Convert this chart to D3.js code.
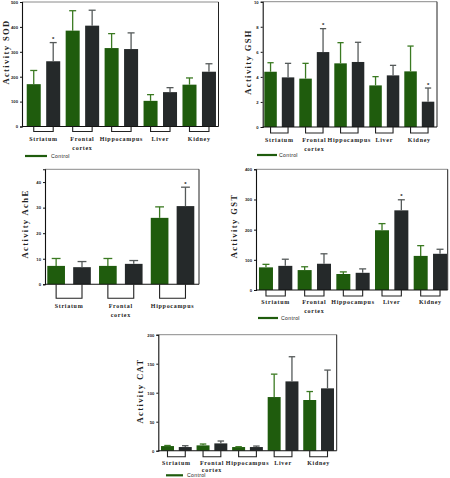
<!DOCTYPE html>
<html>
<head>
<meta charset="utf-8">
<script src="https://cdn.jsdelivr.net/npm/d3@7"></script>
<style>
html,body{margin:0;padding:0;background:#fff;}
svg{display:block;}
</style>
</head>
<body>
<svg id="chart" width="450" height="478"></svg>
<script>
// ---------------- DATA ----------------
const fiveTissues = ["Striatum", "Frontal cortex", "Hippocampus", "Liver", "Kidney"];
const threeTissues = ["Striatum", "Frontal cortex", "Hippocampus"];
const seriesNames = ["Control", "Treated"];

const sodControl = [170, 385, 315, 103, 168];
const sodControlSD = [55, 80, 58, 25, 27];
const sodTreated = [262, 405, 311, 138, 220];
const sodTreatedSD = [75, 62, 65, 18, 32];
const sodStar = [true, false, false, false, false];
const sodTicks = [0, 100, 200, 300, 400, 500];

const gshControl = [4.41, 3.86, 5.08, 3.32, 4.44];
const gshControlSD = [0.72, 1.22, 1.65, 0.70, 2.02];
const gshTreated = [3.96, 5.98, 5.19, 4.12, 2.02];
const gshTreatedSD = [1.12, 1.87, 1.57, 0.80, 1.09];
const gshStar = [false, true, false, false, true];
const gshTicks = [0, 2, 4, 6, 8, 10];

const acheControl = [7.2, 7.2, 26.0];
const acheControlSD = [2.9, 2.9, 4.3];
const acheTreated = [6.7, 8.0, 30.6];
const acheTreatedSD = [2.2, 1.3, 7.4];
const acheStar = [false, false, true];
const acheTicks = [0, 10, 20, 30, 40];

const gstControl = [75, 66, 53, 198, 113];
const gstControlSD = [10, 11, 7, 22, 34];
const gstTreated = [80, 87, 57, 264, 120];
const gstTreatedSD = [22, 33, 13, 35, 15];
const gstStar = [false, false, false, true, false];
const gstTicks = [0, 100, 200, 300, 400];

const catControl = [8, 9.2, 6.3, 92.5, 87.4];
const catControlSD = [1, 2.3, 0.6, 39.5, 14.6];
const catTreated = [6.3, 12.6, 6.3, 119.5, 107.5];
const catTreatedSD = [2.3, 4.1, 1.7, 42.5, 31.5];
const catStar = [false, false, false, false, false];
const catTicks = [0, 50, 100, 150, 200];

// ---------------- STYLE / LAYOUT ----------------
const GREEN = "#1f5c0d";
const DARK = "#25292a";
const GREEN_ERR = "#3b7a22";
const DARK_ERR = "#555a5a";

const svg = d3.select("#chart");

const panels = [
  {title: "Activity SOD", cats: fiveTissues, c: sodControl, cs: sodControlSD, t: sodTreated, ts: sodTreatedSD, star: sodStar, ticks: sodTicks, ymax: 500,
   axisX: 22, right: 218.5, top: 2, zero: 126.5, band: [24, 218.7], pad: 0.28, bracket: 5,
   lab1: 141, lab2: 149.5, titleX: 5.5, titleY: 52, legend: {x1: 25, x2: 47, y: 156, tx: 51}},
  {title: "Activity GSH", cats: fiveTissues, c: gshControl, cs: gshControlSD, t: gshTreated, ts: gshTreatedSD, star: gshStar, ticks: gshTicks, ymax: 10,
   axisX: 262.7, right: 437, top: 1.7, zero: 127, band: [261.8, 436.8], pad: 0.286, bracket: 6,
   lab1: 142, lab2: 150.5, titleX: 247.7, titleY: 62, legend: {x1: 257, x2: 277, y: 155, tx: 279}},
  {title: "Activity AchE", cats: threeTissues, c: acheControl, cs: acheControlSD, t: acheTreated, ts: acheTreatedSD, star: acheStar, ticks: acheTicks, ymax: 45,
   axisX: 45, right: 199, top: 169.3, zero: 284.3, band: [43.2, 198.4], pad: 0.317, bracket: 14,
   lab1: 307.5, lab2: 317, titleX: 25, titleY: 224, legend: null},
  {title: "Activity GST", cats: fiveTissues, c: gstControl, cs: gstControlSD, t: gstTreated, ts: gstTreatedSD, star: gstStar, ticks: gstTicks, ymax: 400,
   axisX: 256, right: 447.7, top: 169.3, zero: 290, band: [256.3, 449.7], pad: 0.276, bracket: 6,
   lab1: 304, lab2: 312.5, titleX: 234, titleY: 226, legend: {x1: 258, x2: 278, y: 318, tx: 281}},
  {title: "Activity CAT", cats: fiveTissues, c: catControl, cs: catControlSD, t: catTreated, ts: catTreatedSD, star: catStar, ticks: catTicks, ymax: 200,
   axisX: 158.3, right: 336.7, top: 334.7, zero: 450.7, band: [158.6, 336.4], pad: 0.27, bracket: 6,
   lab1: 464.5, lab2: 472, titleX: 140, titleY: 391, legend: {x1: 166, x2: 183, y: 475.3, tx: 187}}
];

function drawPanel(p) {
  const g = svg.append("g");
  const keys = [];
  p.cats.forEach((c, i) => { keys.push(i + "-0"); keys.push(i + "-1"); });
  const x = d3.scaleBand().domain(keys).range(p.band).paddingInner(p.pad).paddingOuter(p.pad / 2);
  const y = d3.scaleLinear().domain([0, p.ymax]).range([p.zero, p.top]);
  const bw = x.bandwidth();

  const rows = [];
  p.cats.forEach((cat, i) => {
    rows.push({key: i + "-0", v: p.c[i], sd: p.cs[i], fill: GREEN, err: GREEN_ERR, star: false});
    rows.push({key: i + "-1", v: p.t[i], sd: p.ts[i], fill: DARK, err: DARK_ERR, star: p.star[i]});
  });

  // bars
  g.selectAll("rect.bar").data(rows).enter().append("rect")
    .attr("x", d => x(d.key)).attr("width", bw)
    .attr("y", d => y(d.v)).attr("height", d => y(0) - y(d.v))
    .attr("fill", d => d.fill);

  // error bars
  const eb = g.selectAll("g.err").data(rows).enter().append("g");
  eb.append("line")
    .attr("x1", d => x(d.key) + bw / 2).attr("x2", d => x(d.key) + bw / 2)
    .attr("y1", d => y(d.v)).attr("y2", d => y(d.v + d.sd))
    .attr("stroke", d => d.err).attr("stroke-width", 1.3);
  eb.append("line")
    .attr("x1", d => x(d.key) + bw / 4).attr("x2", d => x(d.key) + bw * 3 / 4)
    .attr("y1", d => y(d.v + d.sd)).attr("y2", d => y(d.v + d.sd))
    .attr("stroke", d => d.err).attr("stroke-width", 1.3);
  eb.filter(d => d.star).append("text")
    .attr("x", d => x(d.key) + bw / 2).attr("y", d => y(d.v + d.sd) - 1.5)
    .attr("text-anchor", "middle").attr("font-family", "Liberation Sans, Arial, sans-serif")
    .attr("font-size", 6).attr("font-weight", "bold").attr("fill", "#222").text("*");

  // frame (top & right)
  g.append("line").attr("x1", p.axisX).attr("x2", p.right).attr("y1", p.top).attr("y2", p.top)
    .attr("stroke", "#8a8a8a").attr("stroke-width", 1);
  g.append("line").attr("x1", p.right).attr("x2", p.right).attr("y1", p.top).attr("y2", p.zero)
    .attr("stroke", "#222").attr("stroke-width", 1);

  // y axis
  const ya = d3.axisLeft(y).tickValues(p.ticks).tickSize(2).tickPadding(2).tickFormat(d3.format("d"));
  const yg = g.append("g").attr("transform", `translate(${p.axisX},0)`).call(ya);
  yg.select(".domain").attr("stroke", "#111").attr("stroke-width", 1.1);
  yg.selectAll(".tick line").attr("stroke", "#111");
  yg.selectAll(".tick text").attr("font-family", "Liberation Sans, Arial, sans-serif")
    .attr("font-size", 4.2).attr("font-weight", "bold").attr("fill", "#222");

  // x axis baseline
  const xa = d3.axisBottom(x).tickSize(0).tickFormat("");
  const xg = g.append("g").attr("transform", `translate(0,${p.zero})`).call(xa);
  xg.select(".domain").attr("stroke", "#111").attr("stroke-width", 1.1)
    .attr("d", `M${p.axisX},0H${p.right}`);

  // brackets
  p.cats.forEach((cat, i) => {
    const a = x(i + "-0") + bw / 2, b = x(i + "-1") + bw / 2;
    g.append("path")
      .attr("d", `M${a},${p.zero}V${p.zero + p.bracket}H${b}V${p.zero}`)
      .attr("fill", "none").attr("stroke", "#222").attr("stroke-width", 1.1);
    const cx = (a + b) / 2;
    const words = cat.split(" ");
    const t = g.append("text").attr("text-anchor", "middle")
      .attr("font-family", "Liberation Serif, Times New Roman, serif").attr("font-weight", "bold")
      .attr("font-size", 6).attr("letter-spacing", 0.7).attr("fill", "#222");
    t.append("tspan").attr("x", cx).attr("y", p.lab1).text(words[0]);
    if (words[1]) t.append("tspan").attr("x", cx).attr("y", p.lab2).text(words[1]);
  });

  // y title
  g.append("text")
    .attr("transform", `translate(${p.titleX},${p.titleY}) rotate(-90)`)
    .attr("text-anchor", "middle").attr("dominant-baseline", "central")
    .attr("font-family", "Liberation Serif, Times New Roman, serif").attr("font-weight", "bold")
    .attr("font-size", 8.5).attr("letter-spacing", 1.4).attr("fill", "#222")
    .text(p.title);

  // legend
  if (p.legend) {
    const L = p.legend;
    g.append("line").attr("x1", L.x1).attr("x2", L.x2).attr("y1", L.y).attr("y2", L.y)
      .attr("stroke", GREEN).attr("stroke-width", 2.2);
    g.append("text").attr("x", L.tx).attr("y", L.y).attr("dominant-baseline", "central")
      .attr("font-family", "Liberation Sans, Arial, sans-serif").attr("font-size", 5.2)
      .attr("letter-spacing", 0.3).attr("fill", "#222").text(seriesNames[0]);
  }
}

panels.forEach(drawPanel);
</script>
</body>
</html>
